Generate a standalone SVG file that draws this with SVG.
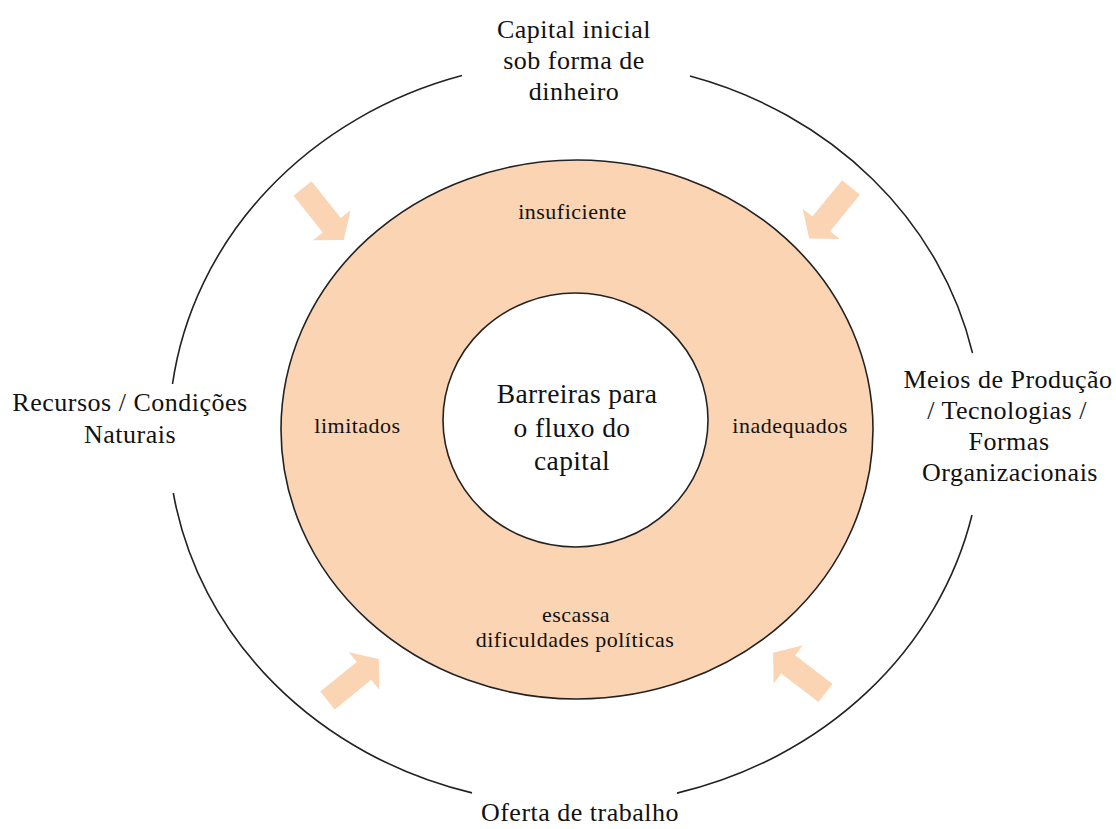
<svg xmlns="http://www.w3.org/2000/svg" width="1116" height="829" viewBox="0 0 1116 829">
<style>
text{font-family:"Liberation Serif","Times New Roman",serif;fill:#111;text-anchor:middle}
.outer{font-size:26px;letter-spacing:0.5px}
.inner{font-size:22px;letter-spacing:0.5px}
.center{font-size:27.5px;letter-spacing:0.4px}
.arc{fill:none;stroke:#222;stroke-width:1.6}
.ring{fill:#fbd4b4;stroke:#222;stroke-width:1.6}
.hole{fill:#fff;stroke:#222;stroke-width:1.6}
.barrow{fill:#fbd4b4}
</style>
<defs>
<path id="blk" d="M0,-11.5 L47,-11.5 L47,-24 L66,0 L47,24 L47,11.5 L0,11.5 Z"/>
</defs>
<rect width="1116" height="829" fill="#fff"/>
<g id="connectors">
<path class="arc" d="M462,75.6 A407,372 0 0 0 172.5,384"/>
<path class="arc" d="M173.3,493 A407,372 0 0 0 472,792.9"/>
<path class="arc" d="M677,793.1 A407,372 0 0 0 972,515"/>
<path class="arc" d="M972.5,353 A407,372 0 0 0 690,76.1"/>
<use href="#blk" class="barrow" transform="translate(302.5,188.5) rotate(51.4)"/>
<use href="#blk" class="barrow" transform="translate(851,187.5) rotate(129.3)"/>
<use href="#blk" class="barrow" transform="translate(327.5,700.5) rotate(-39)"/>
<use href="#blk" class="barrow" transform="translate(825.5,693) rotate(-142.5)"/>
</g>
<g id="ring">
<ellipse class="ring" cx="577" cy="429.5" rx="296" ry="269.5"/>
<text class="inner" x="572.5" y="219">insuficiente</text>
<text class="inner" x="357.5" y="433">limitados</text>
<text class="inner" x="790" y="433">inadequados</text>
<text class="inner" x="576" y="622">escassa</text>
<text class="inner" x="575" y="647">dificuldades políticas</text>
</g>
<g id="core">
<ellipse class="hole" cx="575.5" cy="420" rx="132.5" ry="127"/>
<text class="center" x="577" y="403">Barreiras para</text>
<text class="center" x="572" y="437">o fluxo do</text>
<text class="center" x="572" y="470">capital</text>
</g>
<g id="capital">
<text class="outer" x="574" y="38">Capital inicial</text>
<text class="outer" x="574" y="69">sob forma de</text>
<text class="outer" x="574" y="100">dinheiro</text>
</g>
<g id="recursos">
<text class="outer" x="130" y="411">Recursos / Condições</text>
<text class="outer" x="130" y="443">Naturais</text>
</g>
<g id="meios">
<text class="outer" x="1008" y="388">Meios de Produção</text>
<text class="outer" x="1007" y="419">/ Tecnologias /</text>
<text class="outer" x="1009" y="450">Formas</text>
<text class="outer" x="1010" y="481">Organizacionais</text>
</g>
<g id="oferta">
<text class="outer" x="580" y="821">Oferta de trabalho</text>
</g>
</svg>
